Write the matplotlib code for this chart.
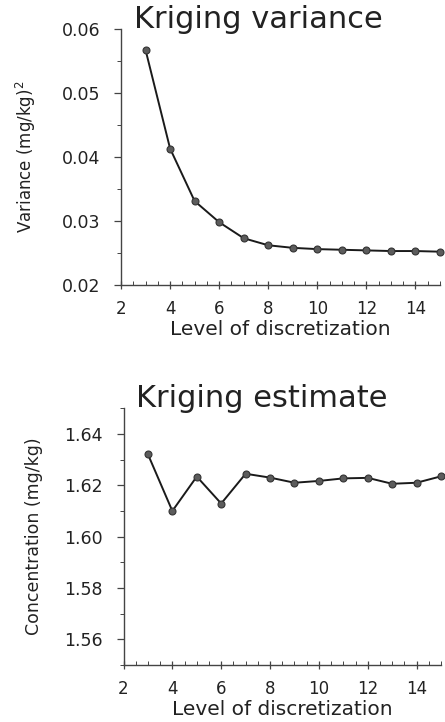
import numpy as np
import matplotlib
matplotlib.use("Agg")
import matplotlib.pyplot as plt
from matplotlib.ticker import MultipleLocator

plt.rcParams['font.family'] = ['DejaVu Sans']

# data
level = [3, 4, 5, 6, 7, 8, 9, 10, 11, 12, 13, 14, 15]
variance = [0.0567, 0.0413, 0.0331, 0.0298, 0.0273, 0.0262, 0.0258,
            0.0256, 0.0255, 0.0254, 0.0253, 0.0253, 0.0252]
estimate = [1.6321, 1.6100, 1.6234, 1.6129, 1.6245, 1.6230, 1.6210,
            1.6217, 1.6227, 1.6229, 1.6206, 1.6210, 1.6235]

xticks = [2, 4, 6, 8, 10, 12, 14]
var_ticks = [0.02, 0.03, 0.04, 0.05, 0.06]
var_labels = ["0.02", "0.03", "0.04", "0.05", "0.06"]
est_ticks = [1.56, 1.58, 1.60, 1.62, 1.64]
est_labels = ["1.56", "1.58", "1.60", "1.62", "1.64"]

fig = plt.figure(figsize=(4.45, 7.22), dpi=100)

ax1 = fig.add_axes([121/445, 1 - 285/722, (440-121)/445, (285-28.7)/722])
ax2 = fig.add_axes([123.5/445, 1 - 665/722, (441-123.5)/445, (665-408.3)/722])

axcol = '#444444'


def style(ax):
    ax.spines['top'].set_visible(False)
    ax.spines['right'].set_visible(False)
    for s in ['left', 'bottom']:
        ax.spines[s].set_color(axcol)
        ax.spines[s].set_linewidth(1.0)
    ax.set_xlim(2, 15)
    ax.set_xticks(xticks)
    ax.xaxis.set_minor_locator(MultipleLocator(0.5))
    ax.tick_params(axis='x', which='major', direction='inout', length=6,
                   width=0.9, color=axcol, pad=8, labelsize=12, labelcolor='#222222')
    ax.tick_params(axis='x', which='minor', direction='in', length=3,
                   width=0.7, color=axcol)
    ax.tick_params(axis='y', which='major', direction='out', length=5,
                   width=0.9, color=axcol, pad=10, labelsize=12.5, labelcolor='#222222')
    ax.tick_params(axis='y', which='minor', direction='out', length=3,
                   width=0.7, color=axcol)
    ax.set_xlabel("Level of discretization", fontsize=14.5, color='#222222',
                  labelpad=1)


ax1.plot(level, variance, color='#1a1a1a', lw=1.4, marker='o', ms=5,
         mfc='#5c5c5c', mec='#333333', mew=0.8, clip_on=False)
style(ax1)
ax1.set_ylim(0.02, 0.06)
ax1.set_yticks(var_ticks)
ax1.set_yticklabels(var_labels)
ax1.yaxis.set_minor_locator(MultipleLocator(0.005))
ax1.set_ylabel("Variance (mg/kg)$^2$", fontsize=12, color='#222222', labelpad=17)

ax2.plot(level, estimate, color='#1a1a1a', lw=1.4, marker='o', ms=5,
         mfc='#5c5c5c', mec='#333333', mew=0.8, clip_on=False)
style(ax2)
ax2.set_ylim(1.55, 1.65)
ax2.set_yticks(est_ticks)
ax2.set_yticklabels(est_labels)
ax2.yaxis.set_minor_locator(MultipleLocator(0.01))
ax2.set_ylabel("Concentration (mg/kg)", fontsize=12.5, color='#222222', labelpad=15)

fig.text(258/445, 1 - 28.5/722, "Kriging variance", fontsize=22,
         ha='center', va='baseline', color='#222222')
fig.text(262/445, 1 - 406.7/722, "Kriging estimate", fontsize=22,
         ha='center', va='baseline', color='#222222')

fig.savefig("out.png", dpi=100)
